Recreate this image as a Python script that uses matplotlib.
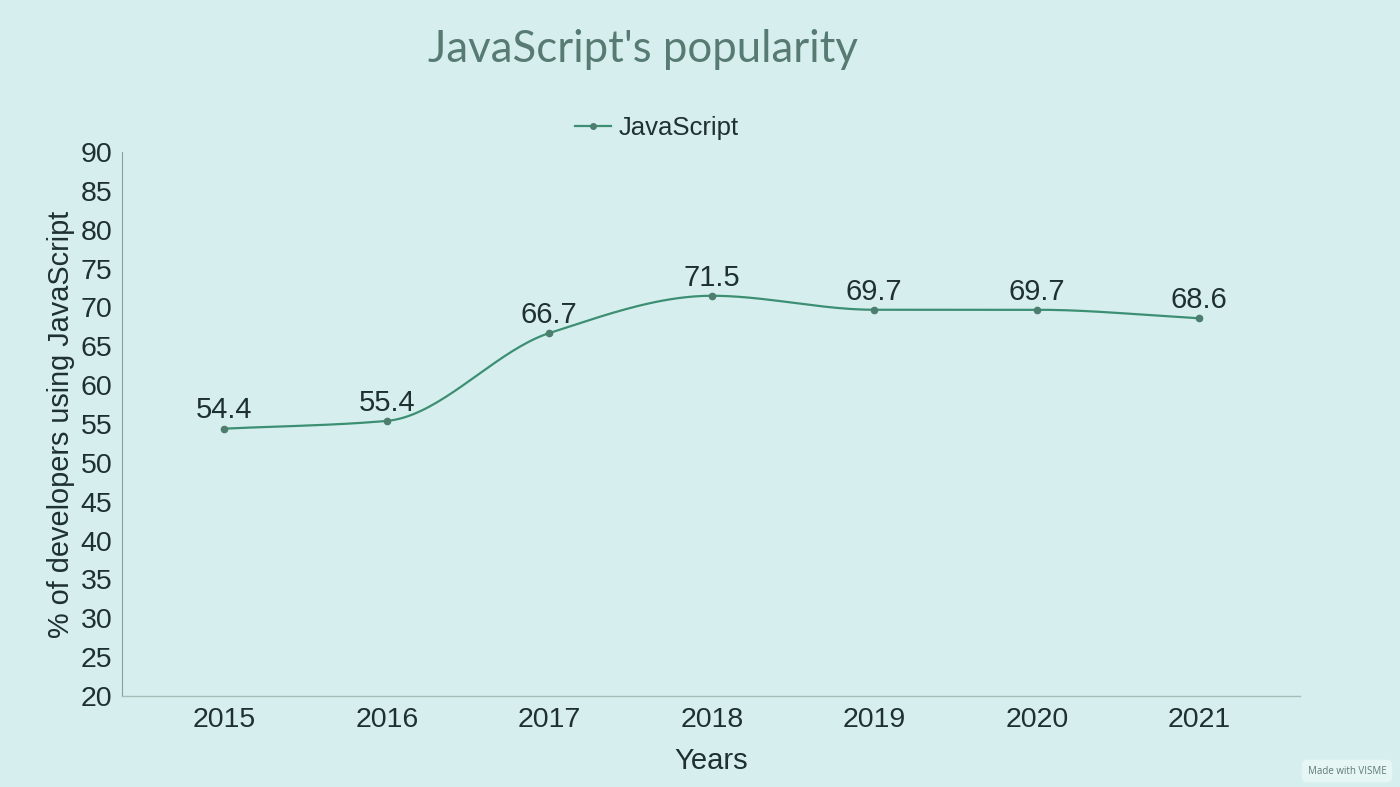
import matplotlib
matplotlib.use("Agg")
from matplotlib import pyplot as plt
import numpy as np

years = ["2015", "2016", "2017", "2018", "2019", "2020", "2021"]
usage = [54.4, 55.4, 66.7, 71.5, 69.7, 69.7, 68.6]

bg = "#d6efee"
line_col = "#3d8f73"
dot_col = "#4d7d6d"
txt = "#1f3030"


def monotone_curve(x, y, n=40):
    # Fritsch-Carlson monotone cubic, similar to the smooth line in the chart
    x = np.asarray(x, float)
    y = np.asarray(y, float)
    h = np.diff(x)
    d = np.diff(y) / h
    m = np.zeros_like(y)
    m[0], m[-1] = d[0], d[-1]
    for i in range(1, len(y) - 1):
        if d[i - 1] * d[i] <= 0:
            m[i] = 0
        else:
            m[i] = 2 / (1 / d[i - 1] + 1 / d[i])
    xs, ys = [], []
    for i in range(len(x) - 1):
        t = np.linspace(0, 1, n)
        h00 = 2 * t**3 - 3 * t**2 + 1
        h10 = t**3 - 2 * t**2 + t
        h01 = -2 * t**3 + 3 * t**2
        h11 = t**3 - t**2
        xs.append(x[i] + t * h[i])
        ys.append(h00 * y[i] + h10 * h[i] * m[i] + h01 * y[i + 1] + h11 * h[i] * m[i + 1])
    return np.concatenate(xs), np.concatenate(ys)


fig = plt.figure(figsize=(14, 7.87), dpi=100, facecolor=bg)
ax = fig.add_axes([122 / 1400, 1 - 696 / 787, (1300 - 122) / 1400, (696 - 152) / 787])
ax.set_facecolor(bg)

xpos = np.arange(len(years))
cx, cy = monotone_curve(xpos, usage)
ax.plot(cx, cy, color=line_col, lw=1.6, zorder=2)
ax.plot(xpos, usage, "o", color=dot_col, ms=4.5, zorder=3)
# legend handle
ax.plot([], [], "-o", color=line_col, mfc=dot_col, mec=dot_col, ms=4, lw=1.6, label="JavaScript")

for xp, v in zip(xpos, usage):
    ax.annotate(f"{v}", (xp, v), xytext=(0, 3), textcoords="offset points",
                ha="center", va="bottom", fontsize=21, color=txt, family="Liberation Sans")

ax.set_xlim(-0.63, 6.62)
ax.set_ylim(20, 90)
ax.set_yticks(range(20, 91, 5))
ax.set_xticks(xpos)
ax.set_xticklabels(years)
ax.tick_params(length=0, labelsize=20.5, labelcolor=txt)
ax.tick_params(axis="x", pad=8)
ax.tick_params(axis="y", pad=7)
for lab in ax.get_xticklabels() + ax.get_yticklabels():
    lab.set_family("Liberation Sans")

for s in ["top", "right"]:
    ax.spines[s].set_visible(False)
ax.spines["left"].set_color("#8aa09b")
ax.spines["left"].set_linewidth(0.8)
ax.spines["bottom"].set_color("#a8bdb9")
ax.spines["bottom"].set_linewidth(1.0)
ax.spines["bottom"].set_linestyle((0, (3, 1)))

ax.set_xlabel("Years", fontsize=21, color=txt, family="Liberation Sans", labelpad=10)
ax.set_ylabel("% of developers using JavaScript", fontsize=20.8, color=txt,
              family="Liberation Sans", labelpad=4)

fig.text(643 / 1400, 1 - 49 / 787, "JavaScript's popularity", ha="center", va="center",
         fontsize=31.5, color="#577a72", family="Lato")

leg = fig.legend(loc="center", bbox_to_anchor=(657 / 1400, 1 - 128 / 787), frameon=False,
                 handlelength=1.4, handletextpad=0.3, labelcolor=txt,
                 prop={"family": "Liberation Sans", "size": 18.5})

fig.text(1347 / 1400, 1 - 771 / 787, "Made with VISME", ha="center", va="center",
         fontsize=7, color="#5f7a78", family="Open Sans",
         bbox=dict(boxstyle="round,pad=0.6", fc="#e6f6f5", ec="none"))

fig.savefig("out.png", dpi=100, facecolor=bg)
